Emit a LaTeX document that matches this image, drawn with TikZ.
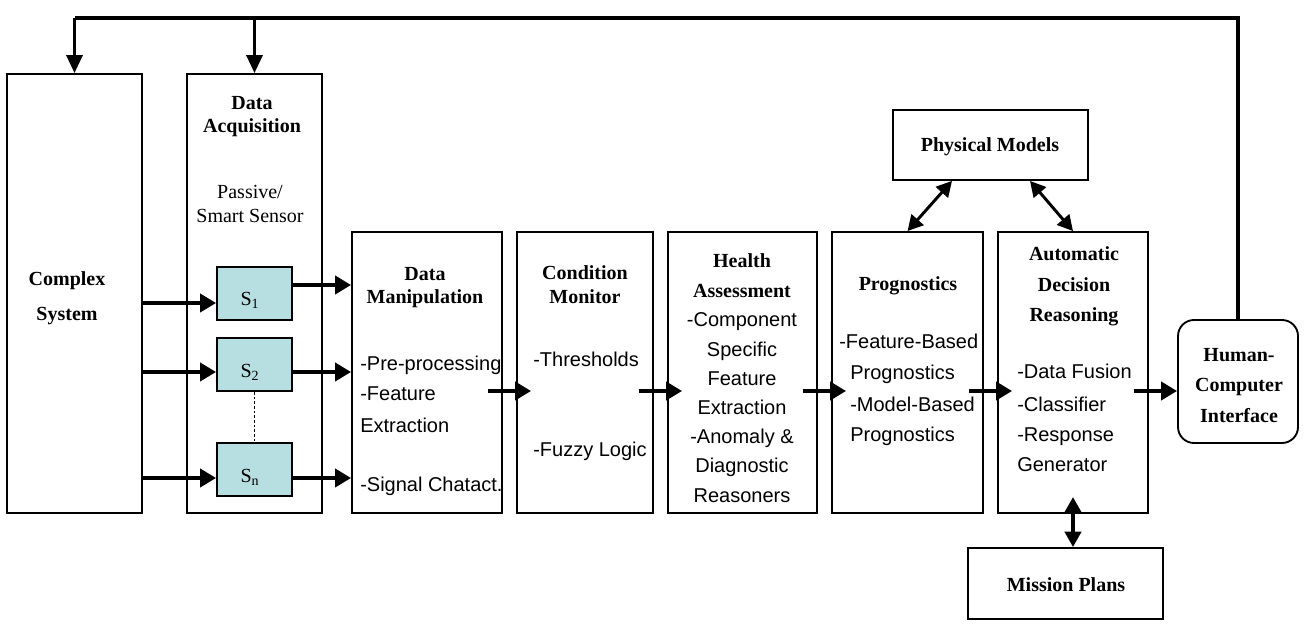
\documentclass[tikz,border=0pt]{standalone}
\usepackage{fontspec}
\setmainfont{Liberation Serif}
\newfontfamily\arialf{Liberation Sans}
\usetikzlibrary{arrows.meta,fit,calc}
\definecolor{sfill}{RGB}{183,222,224}
\tikzset{
 box/.style={draw, line width=1.4pt, inner sep=0pt, fill=white},
 sbox/.style={box, fill=sfill},
 hd/.style={font=\fontsize{15}{18}\selectfont\bfseries, inner sep=0pt, anchor=base},
 rm/.style={font=\fontsize{15}{18}\selectfont, inner sep=0pt, anchor=base},
 bd/.style={font=\fontsize{15}{18}\selectfont\arialf, inner sep=0pt, anchor=base},
 bdl/.style={bd, anchor=base west},
 arr/.style={line width=3pt, -{Triangle[length=12pt,width=13.5pt]}},
 darr/.style={line width=2.2pt, {Triangle[length=11.5pt,width=12pt]}-{Triangle[length=11.5pt,width=12pt]}},
 fb/.style={line width=2.4pt},
 fbarr/.style={fb, -{Triangle[length=13.5pt,width=12pt]}},
 dotl/.style={line width=0.8pt, dash pattern=on 2pt off 1.5pt},
}
\begin{document}
\begin{tikzpicture}[x=0.75pt, y=-0.75pt]
\useasboundingbox (0,0) rectangle (1314,630);
% boxes
\node[box, fit={(7,74) (142,513)}] (cs) {};
\node[box, fit={(187,74) (322,513)}] (da) {};
\node[box, fit={(352,232) (502,513)}] (dm) {};
\node[box, fit={(517,232) (653,513)}] (cm) {};
\node[box, fit={(668,232) (817,513)}] (ha) {};
\node[box, fit={(832,232) (983,513)}] (prog) {};
\node[box, fit={(998,232) (1148,513)}] (adr) {};
\node[box, fit={(893,110) (1088,180)}] (pm) {};
\node[box, fit={(968,548) (1163,619)}] (mp) {};
\node[box, rounded corners=12pt, fit={(1178,320) (1298,443)}] (hci) {};
\node[sbox, fit={(217,267) (292,320)}] (s1) {};
\node[sbox, fit={(217,338) (292,391)}] (s2) {};
\node[sbox, fit={(217,443) (292,496)}] (sn) {};
% feedback loop
\draw[fb] (hci.north) |- (cs.north |- 0,18);
\draw[fbarr] (cs.north |- 0,18) -- (cs.north);
\draw[fbarr] (da.north |- 0,18) -- (da.north);
% sensor arrows
\draw[arr] (cs.east |- 0,303) -- (s1.west |- 0,303);
\draw[arr] (cs.east |- 0,372) -- (s2.west |- 0,372);
\draw[arr] (cs.east |- 0,478) -- (sn.west |- 0,478);
\draw[arr] (s1.east |- 0,285) -- (dm.west |- 0,285);
\draw[arr] (s2.east |- 0,372) -- (dm.west |- 0,372);
\draw[arr] (sn.east |- 0,478) -- (dm.west |- 0,478);
\draw[dotl] (s2.south) -- (sn.north);
% chain arrows
\draw[arr] ($(dm.east|-0,391)+(-15,0)$) -- ($(cm.west|-0,391)+(15,0)$);
\draw[arr] ($(cm.east|-0,391)+(-15,0)$) -- ($(ha.west|-0,391)+(15,0)$);
\draw[arr] ($(ha.east|-0,391)+(-15,0)$) -- ($(prog.west|-0,391)+(15,0)$);
\draw[arr] ($(prog.east|-0,391)+(-15,0)$) -- ($(adr.west|-0,391)+(15,0)$);
\draw[arr] ($(adr.east|-0,391)+(-15,0)$) -- (hci.west |- 0,391);
% double arrows
\draw[darr] (prog.north) -- (pm.south -| 952,0);
\draw[darr] (pm.south -| 1030,0) -- (adr.north);
\draw[darr, line width=3pt] (adr.center |- mp.north) -- (adr.center |- 0,497);
% texts
\node[hd] (t1) at (67,286) {Complex};
\node[hd] (t2) at (67,321) {System};
\node[hd] (t3) at (252,110) {Data};
\node[hd] (t4) at (252,133) {Acquisition};
\node[rm] (t5) at (250,199) {Passive/};
\node[rm] (t6) at (250,223) {Smart Sensor};
\node[rm] (l1) at (250,306) {S\textsubscript{1}};
\node[rm] (l2) at (250,378) {S\textsubscript{2}};
\node[rm] (l3) at (250,483) {S\textsubscript{n}};
\node[hd] (t7) at (425,281) {Data};
\node[hd] (t8) at (425,304) {Manipulation};
\node[bdl] (t9) at (360,371) {-Pre-processing};
\node[bdl] (t10) at (360,401) {-Feature};
\node[bdl] (t11) at (360,433) {Extraction};
\node[bdl] (t12) at (360,492) {-Signal Chatact.};
\node[hd] (t13) at (585,280) {Condition};
\node[hd] (t14) at (585,304) {Monitor};
\node[bdl] (t15) at (533,367) {-Thresholds};
\node[bdl] (t16) at (533,457) {-Fuzzy Logic};
\node[hd] (t17) at (742,268) {Health};
\node[hd] (t18) at (742,298) {Assessment};
\node[bd] (t19) at (742,327) {-Component};
\node[bd] (t20) at (742,357) {Specific};
\node[bd] (t21) at (742,386) {Feature};
\node[bd] (t22) at (742,415) {Extraction};
\node[bd] (t23) at (742,444) {-Anomaly \&};
\node[bd] (t24) at (742,473) {Diagnostic};
\node[bd] (t25) at (742,503) {Reasoners};
\node[hd] (t26) at (908,291) {Prognostics};
\node[bdl] (t27) at (839,349) {-Feature-Based};
\node[bdl] (t28) at (850,380) {Prognostics};
\node[bdl] (t29) at (850,412) {-Model-Based};
\node[bdl] (t30) at (850,442) {Prognostics};
\node[hd] (t31) at (1074,261) {Automatic};
\node[hd] (t32) at (1074,292) {Decision};
\node[hd] (t33) at (1074,322) {Reasoning};
\node[bdl] (t34) at (1017,379) {-Data Fusion};
\node[bdl] (t35) at (1017,412) {-Classifier};
\node[bdl] (t36) at (1017,442) {-Response};
\node[bdl] (t37) at (1017,472) {Generator};
\node[hd] (t38) at (1239,362) {Human-};
\node[hd] (t39) at (1239,392) {Computer};
\node[hd] (t40) at (1239,423) {Interface};
\node[hd] (t41) at (990,152) {Physical Models};
\node[hd] (t42) at (1066,591) {Mission Plans};
\end{tikzpicture}
\end{document}
